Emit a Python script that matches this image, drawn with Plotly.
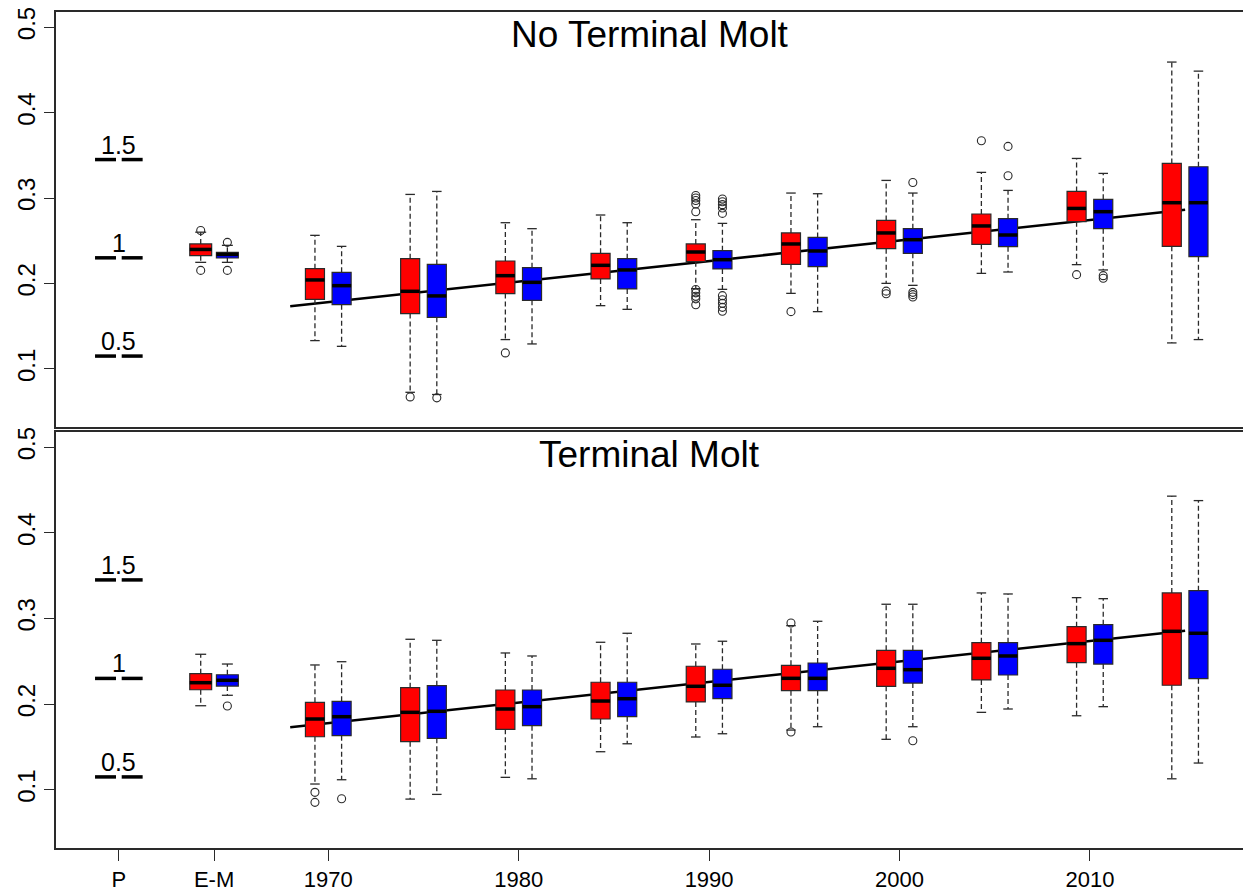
import plotly.graph_objects as go

# ---------------- data ----------------
group_labels = ["E-M", "1970", "1975", "1980", "1985", "1990", "1995", "2000", "2005", "2010", "2015"]
group_pos = [1964, 1970, 1975, 1980, 1985, 1990, 1995, 2000, 2005, 2010, 2015]

x_tick_pos = [1959, 1964, 1970, 1980, 1990, 2000, 2010]
x_tick_text = ["P", "E-M", "1970", "1980", "1990", "2000", "2010"]
y_tick_vals = [0.1, 0.2, 0.3, 0.4, 0.5]
y_tick_text = ["0.1", "0.2", "0.3", "0.4", "0.5"]

prior_pos = 1959
prior_vals = [0.115, 0.23, 0.345]
prior_labels = ["0.5", "1", "1.5"]

trend_x = [1968, 2015]
ntm_trend_y = [0.1734, 0.2862]
tm_trend_y = [0.1731, 0.2857]

# No Terminal Molt - red
ntm_red_low = [0.2247, 0.1331, 0.0726, 0.1343, 0.1740, 0.1939, 0.1884, 0.2001, 0.2118, 0.2220, 0.1304]
ntm_red_q1 = [0.2325, 0.1814, 0.1647, 0.1881, 0.2053, 0.2255, 0.2223, 0.2407, 0.2458, 0.2723, 0.2434]
ntm_red_med = [0.2398, 0.2041, 0.1908, 0.2091, 0.2212, 0.2368, 0.2462, 0.2591, 0.2673, 0.2878, 0.2945]
ntm_red_q3 = [0.2462, 0.2173, 0.2290, 0.2263, 0.2352, 0.2462, 0.2591, 0.2738, 0.2813, 0.3077, 0.3405]
ntm_red_high = [0.2600, 0.2563, 0.3042, 0.2711, 0.2801, 0.2746, 0.3058, 0.3206, 0.3300, 0.3463, 0.4591]
ntm_red_out = [[0.262, 0.2153], [], [0.0672], [0.1187], [],
               [0.303, 0.300, 0.297, 0.293, 0.284, 0.193, 0.189, 0.185, 0.182, 0.175],
               [0.167], [0.191, 0.188], [0.367], [0.2103], []]

# No Terminal Molt - blue
ntm_blue_low = [0.2247, 0.1264, 0.0700, 0.1292, 0.1697, 0.1931, 0.1670, 0.1978, 0.2134, 0.2158, 0.1343]
ntm_blue_q1 = [0.2298, 0.1752, 0.1604, 0.1802, 0.1936, 0.2170, 0.2196, 0.2352, 0.2430, 0.2641, 0.2313]
ntm_blue_med = [0.2340, 0.1974, 0.1854, 0.2013, 0.2158, 0.2278, 0.2380, 0.2512, 0.2567, 0.2840, 0.2945]
ntm_blue_q3 = [0.2364, 0.2130, 0.2223, 0.2185, 0.2290, 0.2384, 0.2539, 0.2641, 0.2758, 0.2984, 0.3366]
ntm_blue_high = [0.2446, 0.2434, 0.3077, 0.2641, 0.2711, 0.2703, 0.3050, 0.3058, 0.3089, 0.3288, 0.4485]
ntm_blue_out = [[0.2481, 0.2153], [], [0.0661], [], [],
                [0.2988, 0.2957, 0.2922, 0.2883, 0.282, 0.1857, 0.181, 0.1767, 0.172, 0.1674],
                [], [0.3182, 0.1896, 0.1869, 0.1842], [0.3604, 0.326], [0.2091, 0.206], []]

# Terminal Molt - red
tm_red_low = [0.1981, 0.1067, 0.0891, 0.1145, 0.1444, 0.1616, 0.1697, 0.1589, 0.1904, 0.1864, 0.1128]
tm_red_q1 = [0.2168, 0.1619, 0.1561, 0.1706, 0.1826, 0.2025, 0.2157, 0.2208, 0.2282, 0.2484, 0.2220]
tm_red_med = [0.2250, 0.1826, 0.1904, 0.1943, 0.2036, 0.2208, 0.2301, 0.2418, 0.2535, 0.2706, 0.2850]
tm_red_q3 = [0.2355, 0.2021, 0.2192, 0.2165, 0.2255, 0.2442, 0.2453, 0.2628, 0.2717, 0.2904, 0.3298]
tm_red_high = [0.2582, 0.2457, 0.2757, 0.2597, 0.2722, 0.2702, 0.2916, 0.3166, 0.3298, 0.3243, 0.4428]
tm_red_out = [[], [0.0970, 0.0853], [], [], [], [], [0.2947, 0.1674], [], [], [], []]

# Terminal Molt - blue
tm_blue_low = [0.2103, 0.1117, 0.0946, 0.1128, 0.1537, 0.1654, 0.1736, 0.1736, 0.1943, 0.1970, 0.1312]
tm_blue_q1 = [0.2211, 0.1631, 0.1600, 0.1748, 0.1853, 0.2063, 0.2157, 0.2246, 0.2340, 0.2468, 0.2297]
tm_blue_med = [0.2278, 0.1853, 0.1916, 0.1970, 0.2063, 0.2220, 0.2301, 0.2402, 0.2562, 0.2745, 0.2827]
tm_blue_q3 = [0.2343, 0.2033, 0.2215, 0.2165, 0.2255, 0.2407, 0.2480, 0.2628, 0.2717, 0.2928, 0.3325]
tm_blue_high = [0.2468, 0.2495, 0.2745, 0.2562, 0.2827, 0.2734, 0.2967, 0.3166, 0.3286, 0.3231, 0.4376]
tm_blue_out = [[0.1978], [0.0895], [], [], [], [], [], [0.1572], [], [], []]

# ---------------- style ----------------
FONT = "Liberation Sans, Arial, sans-serif"
RED = "#FF0000"
BLUE = "#0000FF"
EDGE = "#2a2a2a"
OFFSET = 0.7
BOX_W = [1.15] + [1.0] * 10
PRIOR_W = 1.1

panels = [
    dict(title="No Terminal Molt", xa="x", ya="y", trend=ntm_trend_y,
         series=[(RED, -OFFSET, ntm_red_low, ntm_red_q1, ntm_red_med, ntm_red_q3, ntm_red_high, ntm_red_out),
                 (BLUE, OFFSET, ntm_blue_low, ntm_blue_q1, ntm_blue_med, ntm_blue_q3, ntm_blue_high, ntm_blue_out)]),
    dict(title="Terminal Molt", xa="x2", ya="y2", trend=tm_trend_y,
         series=[(RED, -OFFSET, tm_red_low, tm_red_q1, tm_red_med, tm_red_q3, tm_red_high, tm_red_out),
                 (BLUE, OFFSET, tm_blue_low, tm_blue_q1, tm_blue_med, tm_blue_q3, tm_blue_high, tm_blue_out)]),
]

fig = go.Figure()
shapes = []
annotations = []

for p in panels:
    xa, ya = p["xa"], p["ya"]
    # trend line (behind boxes)
    shapes.append(dict(type="line", xref=xa, yref=ya, layer="below",
                       x0=trend_x[0], y0=p["trend"][0], x1=trend_x[1], y1=p["trend"][1],
                       line=dict(color="black", width=2.5)))

    for color, off, low, q1, med, q3, high, outs in p["series"]:
        pos = [g + off for g in group_pos]
        wx, wy = [], []
        cx, cy = [], []
        mx, my = [], []
        ox, oy = [], []
        for i, x in enumerate(pos):
            wx += [x, x, None, x, x, None]
            wy += [q3[i], high[i], None, q1[i], low[i], None]
            hw = BOX_W[i] / 4
            cx += [x - hw, x + hw, None, x - hw, x + hw, None]
            cy += [high[i], high[i], None, low[i], low[i], None]
            bw = BOX_W[i] / 2
            mx += [x - bw, x + bw, None]
            my += [med[i], med[i], None]
            for v in outs[i]:
                ox.append(x)
                oy.append(v)
        fig.add_trace(go.Scatter(x=wx, y=wy, mode="lines", xaxis=xa, yaxis=ya,
                                 line=dict(color=EDGE, width=1.3, dash="5px,3px"),
                                 showlegend=False, hoverinfo="skip"))
        fig.add_trace(go.Scatter(x=cx, y=cy, mode="lines", xaxis=xa, yaxis=ya,
                                 line=dict(color=EDGE, width=1.3),
                                 showlegend=False, hoverinfo="skip"))
        for i, x in enumerate(pos):
            fig.add_trace(go.Box(x=[x], q1=[q1[i]], median=[med[i]], q3=[q3[i]],
                                 lowerfence=[q1[i]], upperfence=[q3[i]],
                                 orientation="v", width=BOX_W[i], whiskerwidth=0,
                                 fillcolor=color, line=dict(color=EDGE, width=1.2),
                                 boxpoints=False, xaxis=xa, yaxis=ya,
                                 showlegend=False, hoverinfo="skip"))
        fig.add_trace(go.Scatter(x=mx, y=my, mode="lines", xaxis=xa, yaxis=ya,
                                 line=dict(color="black", width=3.5),
                                 showlegend=False, hoverinfo="skip"))
        fig.add_trace(go.Scatter(x=ox, y=oy, mode="markers", xaxis=xa, yaxis=ya,
                                 marker=dict(symbol="circle-open", size=8,
                                             color=EDGE, line=dict(width=1.1)),
                                 showlegend=False, hoverinfo="skip"))

    # prior markers at P
    px, py = [], []
    for v in prior_vals:
        for off in (-OFFSET, OFFSET):
            px += [prior_pos + off - PRIOR_W / 2, prior_pos + off + PRIOR_W / 2, None]
            py += [v, v, None]
    fig.add_trace(go.Scatter(x=px, y=py, mode="lines", xaxis=xa, yaxis=ya,
                             line=dict(color="black", width=3.5),
                             showlegend=False, hoverinfo="skip"))
    for v, lab in zip(prior_vals, prior_labels):
        annotations.append(dict(x=prior_pos, y=v, xref=xa, yref=ya, text=lab,
                                showarrow=False, yanchor="bottom", xanchor="center",
                                yshift=-1, font=dict(family=FONT, size=25, color="black")))
    annotations.append(dict(x=0.5, y=0.945, xref=xa + " domain", yref=ya + " domain",
                            text=p["title"], showarrow=False, xanchor="center",
                            yanchor="middle", font=dict(family=FONT, size=37, color="black")))

X_RANGE = [1955.7, 2018.04]
Y_RANGE = [0.032, 0.5177]

axis_common = dict(showgrid=False, zeroline=False, showline=True, linecolor=EDGE,
                   linewidth=1.5, automargin=False)
ytick_common = dict(tickvals=y_tick_vals, ticktext=y_tick_text, tickangle=-90,
                    ticks="outside", ticklen=10, tickcolor=EDGE, tickwidth=1.2,
                    ticklabelstandoff=0,
                    tickfont=dict(family=FONT, size=24, color="black"))

fig.update_layout(
    width=1243, height=893,
    margin=dict(l=56, r=0, t=12, b=45),
    paper_bgcolor="white", plot_bgcolor="white",
    boxmode="overlay",
    font=dict(family=FONT, size=22, color="black"),
    shapes=shapes, annotations=annotations,
    xaxis=dict(domain=[0, 1], range=X_RANGE, anchor="y", showticklabels=False,
               ticks="", mirror=True, **axis_common),
    yaxis=dict(domain=[0.5036, 1], range=Y_RANGE, anchor="x", **ytick_common, **axis_common),
    xaxis2=dict(domain=[0, 1], range=X_RANGE, anchor="y2", tickvals=x_tick_pos,
                ticktext=x_tick_text, ticks="outside", ticklen=11, tickcolor=EDGE,
                tickwidth=1.2, ticklabelstandoff=0, mirror=True,
                tickfont=dict(family=FONT, size=22, color="black"), **axis_common),
    yaxis2=dict(domain=[0, 0.4976], range=Y_RANGE, anchor="x2", **ytick_common, **axis_common),
)

fig.write_html("out.html")
